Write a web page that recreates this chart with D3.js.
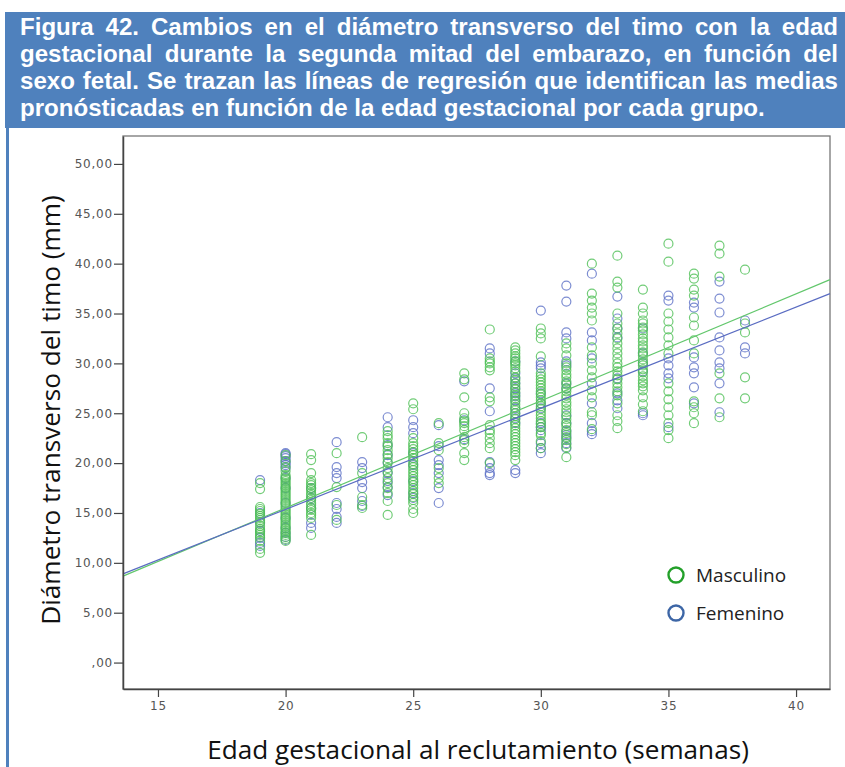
<!DOCTYPE html>
<html>
<head>
<meta charset="utf-8">
<script src="https://cdn.jsdelivr.net/npm/d3@7"></script>
<style>
  body { margin: 0; background: #fff; }
  svg { display: block; }
</style>
</head>
<body>
<script>
// semanas de gestación (eje x) y diámetros leídos por grupo
var weeks = [19, 20, 21, 22, 23, 24, 25, 26, 27, 28, 29, 30, 31, 32, 33, 34, 35, 36, 37, 38];

var masculino = [
  [18.0, 17.4, 15.6, 15.4, 15.2, 14.9, 14.7, 14.5, 14.3, 14.1, 13.7, 13.4, 13.2, 13.0, 12.8, 12.6, 12.2, 11.4, 11.0],
  [20.8, 20.2, 19.6, 19.2, 18.8, 18.6, 18.4, 18.2, 18.0, 17.8, 17.6, 17.4, 17.2, 17.0, 16.8, 16.6, 16.4, 16.2, 16.0, 15.8, 15.6, 15.4, 15.2, 15.0, 14.8, 14.6, 14.4, 14.2, 14.0, 13.8, 13.6, 13.4, 13.2, 13.0, 12.8, 12.6, 12.4, 12.2],
  [20.9, 20.3, 19.0, 18.3, 18.0, 17.8, 17.5, 17.3, 17.0, 16.8, 16.5, 16.3, 16.0, 15.8, 15.5, 15.3, 15.0, 14.8, 14.5, 12.8],
  [21.0, 17.6, 15.8, 14.3],
  [22.6, 19.0, 16.6, 15.8, 15.5],
  [23.2, 22.8, 22.5, 22.0, 21.7, 21.3, 20.9, 20.5, 20.1, 19.5, 19.1, 18.5, 18.0, 17.5, 17.0, 16.2, 14.8],
  [26.0, 25.4, 22.5, 22.0, 21.7, 21.4, 21.1, 20.8, 20.5, 20.2, 19.9, 19.6, 19.3, 19.0, 18.7, 18.4, 18.1, 17.8, 17.5, 17.2, 16.9, 16.6, 16.3, 16.0, 15.4, 15.0],
  [24.0, 22.0, 21.3, 19.5, 18.5, 18.0],
  [29.0, 28.4, 26.6, 25.0, 24.5, 24.2, 24.0, 23.7, 23.3, 22.6, 22.3, 22.0, 21.0, 20.3],
  [33.4, 30.5, 30.2, 30.0, 29.6, 29.3, 26.6, 26.2, 23.8, 23.3, 23.0, 22.5, 22.0, 21.5, 20.0],
  [31.6, 31.3, 31.0, 30.7, 30.5, 30.2, 30.0, 29.8, 29.5, 29.2, 28.6, 28.3, 28.0, 27.7, 27.4, 27.1, 26.8, 26.5, 26.2, 25.9, 25.6, 25.3, 25.0, 24.7, 24.4, 24.1, 23.8, 23.5, 23.2, 22.9, 22.6, 22.3, 22.0, 21.7, 21.4, 21.1, 20.8, 20.3],
  [33.5, 33.0, 32.5, 30.7, 29.0, 28.7, 28.4, 28.1, 27.8, 27.5, 27.2, 26.9, 26.6, 26.3, 26.0, 25.7, 25.4, 25.1, 24.8, 24.5, 24.2, 23.9, 23.6, 23.0, 22.8, 22.2, 21.5],
  [32.0, 31.5, 30.8, 30.0, 29.6, 29.3, 28.9, 28.6, 28.2, 27.9, 27.5, 27.2, 26.8, 26.5, 26.1, 25.8, 25.4, 25.1, 24.7, 24.4, 24.0, 23.7, 23.3, 23.0, 22.6, 22.3, 21.9, 21.6, 20.6],
  [40.0, 37.0, 36.3, 35.6, 35.0, 34.3, 31.6, 30.8, 30.0, 29.3, 28.6, 27.3, 26.6, 25.1, 24.8, 23.4],
  [40.8, 38.2, 37.6, 35.0, 34.0, 33.5, 33.0, 32.5, 32.0, 31.5, 31.0, 30.5, 30.0, 29.6, 29.2, 28.8, 28.4, 28.0, 27.6, 27.2, 26.8, 26.0, 24.8, 24.2, 23.5],
  [37.4, 35.6, 35.0, 34.3, 34.0, 33.6, 33.3, 32.9, 32.5, 32.2, 31.8, 31.5, 31.1, 30.8, 30.4, 30.1, 29.8, 29.4, 29.1, 28.7, 28.3, 28.0, 27.7, 27.3, 26.6, 25.9, 25.2],
  [42.0, 40.2, 35.0, 34.2, 33.4, 32.6, 31.8, 31.0, 28.0, 27.2, 26.4, 25.6, 24.8, 24.0, 23.3, 22.5],
  [39.0, 38.5, 37.4, 36.8, 34.6, 33.8, 32.3, 31.0, 26.2, 25.6, 25.0, 24.0],
  [41.8, 41.0, 38.7, 29.0, 26.5, 24.6],
  [39.4, 34.0, 33.1, 28.6, 26.5]
];

var femenino = [
  [18.3, 15.0, 14.0, 13.2, 12.5, 12.0, 11.7],
  [21.0, 20.9, 20.7, 20.5, 20.2, 20.0, 19.8, 19.5, 18.5, 17.5, 16.0, 14.5, 13.5, 13.0, 12.6, 12.3],
  [17.5, 16.5, 15.5, 14.0, 13.5],
  [22.1, 19.6, 19.0, 18.5, 16.0, 15.4, 14.6, 14.0],
  [20.1, 19.5, 18.1, 17.5, 16.2, 15.7],
  [24.6, 23.6, 21.8, 20.8, 20.0, 19.0, 18.2, 17.6, 16.8],
  [24.3, 23.6, 23.0, 21.0, 19.8, 18.2, 17.0, 16.5],
  [23.8, 21.7, 20.3, 19.8, 19.0, 17.5, 16.0],
  [28.2, 24.3, 22.4],
  [31.5, 31.0, 27.5, 25.2, 20.1, 19.5, 19.0, 18.8],
  [30.2, 29.0, 28.5, 28.0, 27.5, 27.0, 26.7, 26.3, 25.5, 25.0, 24.5, 24.0, 19.3, 19.0],
  [35.3, 30.1, 29.8, 29.5, 27.0, 26.0, 25.5, 24.0, 23.6, 23.3, 22.0, 21.5, 21.0],
  [37.8, 36.2, 33.1, 32.5, 30.2, 29.8, 28.0, 27.5, 24.8, 24.0, 23.2, 22.8, 22.5, 22.0, 21.5],
  [39.0, 33.1, 32.3, 30.5, 28.0, 26.0, 24.0, 23.2, 22.9],
  [36.7, 34.5, 33.5, 32.6, 28.5, 27.0, 26.3, 25.5],
  [33.5, 31.0, 30.0, 29.2, 25.0, 24.8],
  [36.8, 36.3, 30.5, 29.8, 29.0, 28.5, 23.6],
  [36.1, 35.6, 30.6, 29.6, 29.0, 27.6, 26.0],
  [38.2, 36.5, 35.1, 32.6, 31.3, 30.1, 29.5, 28.0, 25.1],
  [34.3, 31.6, 31.0]
];

// rectas de regresión (ordenada, pendiente)
var fitMasculino = [-5.97, 1.0736];
var fitFemenino = [-4.93, 1.0144];

var yTicks = [0, 5, 10, 15, 20, 25, 30, 35, 40, 45, 50];
var xTicks = [15, 20, 25, 30, 35, 40];

var titleLines = [
  "Figura 42. Cambios en el diámetro transverso del timo con la edad",
  "gestacional durante la segunda mitad del embarazo, en función del",
  "sexo fetal. Se trazan las líneas de regresión que identifican las medias",
  "pronósticadas en función de la edad gestacional por cada grupo."
];

var groups = [
  {name: "Masculino", values: masculino, fit: fitMasculino, color: "#4dbf55", line: "#62c76c", legend: "#23a02a"},
  {name: "Femenino", values: femenino, fit: fitFemenino, color: "#5b6fc6", line: "#5a6cc2", legend: "#3d66a6"}
];

var W = 845, H = 767;
var svg = d3.select("body").append("svg")
    .attr("width", W)
    .attr("height", H);

// cabecera azul
var blue = "#4f81bd";
svg.append("rect").attr("x", 5).attr("y", 12).attr("width", 840).attr("height", 116).attr("fill", blue);
svg.append("rect").attr("x", 6).attr("y", 128).attr("width", 3).attr("height", H - 128).attr("fill", blue);

var title = svg.append("g")
    .style("font-family", "'Liberation Sans', Arial, sans-serif")
    .style("font-weight", "bold")
    .style("font-size", "23.5px")
    .attr("fill", "#fff");

var tx0 = 20, tx1 = 838;

// última línea: tamaño de letra ajustado a su ancho en el original
var last = title.append("text").attr("x", tx0).attr("y", 35 + 3 * 27).text(titleLines[3]);
var fs = 23.5 * 745 / last.node().getComputedTextLength();
title.style("font-size", fs + "px");

titleLines.slice(0, 3).forEach(function(line, i) {
  var yy = 35 + i * 27;
  var words = line.split(" ");
  var nodes = words.map(function(w) {
    return title.append("text").attr("y", yy).text(w);
  });
  var widths = nodes.map(function(n) { return n.node().getComputedTextLength(); });
  var gap = (tx1 - tx0 - d3.sum(widths)) / (words.length - 1);
  var cx = tx0;
  nodes.forEach(function(n, k) {
    n.attr("x", cx);
    cx += widths[k] + gap;
  });
});

// área del gráfico
var plot = {left: 123, right: 830, top: 136, bottom: 689};

var x = d3.scaleLinear().domain([13.63, 41.33]).range([plot.left, plot.right]);
var y = d3.scaleLinear().domain([-2.65, 52.8]).range([plot.bottom, plot.top]);

svg.append("rect")
    .attr("x", plot.left).attr("y", plot.top)
    .attr("width", plot.right - plot.left).attr("height", plot.bottom - plot.top)
    .attr("fill", "#fff")
    .attr("stroke", "#777")
    .attr("stroke-width", 1.3);

// puntos (femenino debajo, masculino encima)
var pts = svg.append("g");
groups.slice().reverse().forEach(function(g) {
  var flat = [];
  weeks.forEach(function(w, i) {
    g.values[i].forEach(function(v) { flat.push({w: w, v: v}); });
  });
  pts.selectAll(null)
      .data(flat)
      .enter().append("circle")
      .attr("cx", function(d) { return x(d.w); })
      .attr("cy", function(d) { return y(d.v); })
      .attr("r", 4.5)
      .attr("fill", "none")
      .attr("stroke", g.color)
      .attr("stroke-width", 1.2)
      .attr("stroke-opacity", 0.8);
});

// rectas de regresión
var fitLine = d3.line()
    .x(function(d) { return x(d[0]); })
    .y(function(d) { return y(d[1]); });

groups.forEach(function(g) {
  var dom = x.domain();
  var seg = dom.map(function(w) { return [w, g.fit[0] + g.fit[1] * w]; });
  svg.append("path")
      .datum(seg)
      .attr("d", fitLine)
      .attr("fill", "none")
      .attr("stroke", g.line)
      .attr("stroke-width", 1.2);
});

// ejes
var fmt = function(d) { return d === 0 ? ",00" : d3.format(".2f")(d).replace(".", ","); };

var yAxis = svg.append("g")
    .attr("transform", "translate(" + plot.left + ",0)")
    .call(d3.axisLeft(y).tickValues(yTicks).tickFormat(fmt).tickSize(9).tickPadding(1).tickSizeOuter(0));

var xAxis = svg.append("g")
    .attr("transform", "translate(0," + plot.bottom + ")")
    .call(d3.axisBottom(x).tickValues(xTicks).tickFormat(d3.format("d")).tickSize(8).tickPadding(4).tickSizeOuter(0));

[yAxis, xAxis].forEach(function(a) {
  a.select(".domain").attr("stroke", "#444").attr("stroke-width", 1.5);
  a.selectAll(".tick line").attr("stroke", "#444").attr("stroke-width", 1.2);
  a.selectAll(".tick text")
      .attr("fill", "#555")
      .style("font-family", "'DejaVu Sans', sans-serif")
      .style("font-size", "12px")
      .style("letter-spacing", "0.8px");
});

// títulos de ejes, ajustados al ancho del original
function fitText(sel, target) {
  var size = parseFloat(sel.style("font-size"));
  var wdt = sel.node().getComputedTextLength();
  sel.style("font-size", (size * target / wdt) + "px");
}

var xTitle = svg.append("text")
    .attr("x", 478)
    .attr("y", 759)
    .attr("text-anchor", "middle")
    .attr("fill", "#111")
    .style("font-family", "'Open Sans', sans-serif")
    .style("font-size", "25px")
    .text("Edad gestacional al reclutamiento (semanas)");
fitText(xTitle, 542);

var yTitle = svg.append("text")
    .attr("transform", "translate(60,410) rotate(-90)")
    .attr("text-anchor", "middle")
    .attr("fill", "#111")
    .style("font-family", "'Open Sans', sans-serif")
    .style("font-size", "26px")
    .text("Diámetro transverso del timo (mm)");
fitText(yTitle, 430);

// leyenda
var legend = svg.append("g")
    .attr("transform", "translate(676,575)");

legend.selectAll("circle")
    .data(groups)
    .enter().append("circle")
    .attr("cx", 0)
    .attr("cy", function(d, i) { return i * 38; })
    .attr("r", 7.5)
    .attr("fill", "none")
    .attr("stroke", function(d) { return d.legend; })
    .attr("stroke-width", 2.4);

legend.selectAll("text")
    .data(groups)
    .enter().append("text")
    .attr("x", 20)
    .attr("y", function(d, i) { return i * 38 + 7; })
    .attr("fill", "#222")
    .style("font-family", "'Open Sans', sans-serif")
    .style("font-size", "19px")
    .text(function(d) { return d.name; });
</script>
</body>
</html>
